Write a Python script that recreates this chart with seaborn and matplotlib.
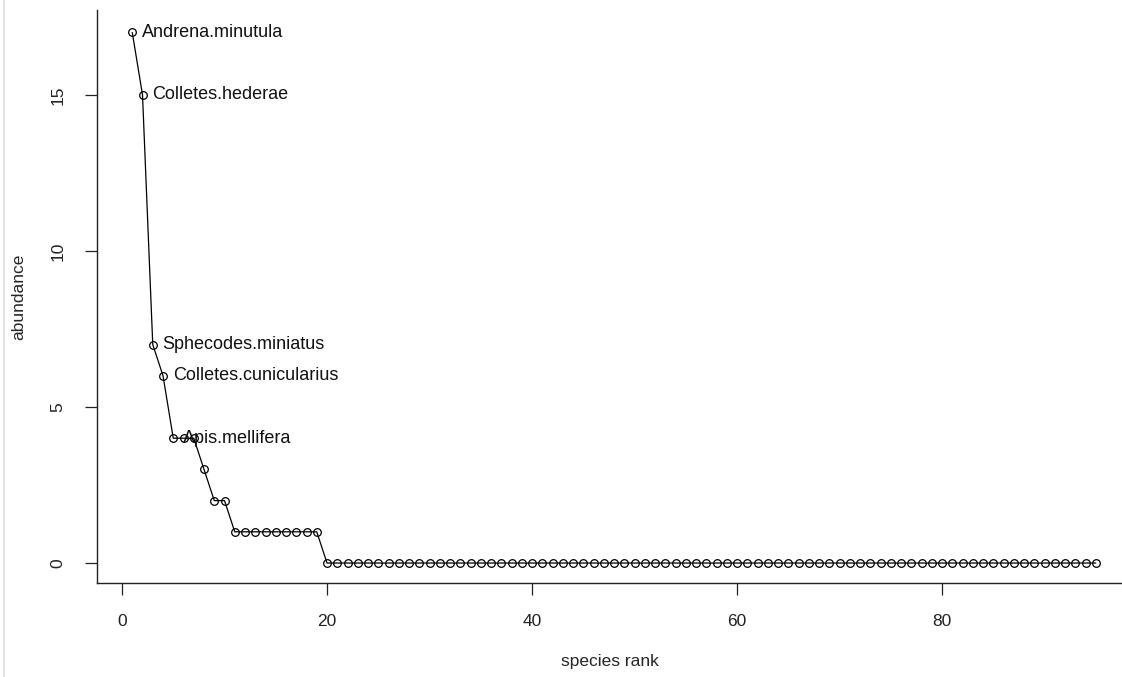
import numpy as np
import pandas as pd
import matplotlib
matplotlib.use("Agg")
import matplotlib.pyplot as plt
from matplotlib.lines import Line2D
import seaborn as sns

# rank-abundance values
abundance = [17, 15, 7, 6, 4, 4, 4, 3, 2, 2] + [1] * 9 + [0] * 76
ranks = list(range(1, len(abundance) + 1))

# labelled species (top five ranks)
label_ranks = [1, 2, 3, 4, 5]
label_names = ["Andrena.minutula", "Colletes.hederae", "Sphecodes.miniatus",
               "Colletes.cunicularius", "Apis.mellifera"]

x_ticks = [0, 20, 40, 60, 80]
y_ticks = [0, 5, 10, 15]

sns.set_style("white")
plt.rcParams['font.family'] = ['Liberation Sans', 'DejaVu Sans']

df = pd.DataFrame({'rank': ranks, 'abundance': abundance})

fig = plt.figure(figsize=(11.22, 6.77), dpi=100)
ax = fig.add_axes([97 / 1122, 94 / 677, 1025 / 1122, 573 / 677])

sns.lineplot(data=df, x='rank', y='abundance', ax=ax, color='black',
             linewidth=0.9, marker='o', markersize=5.5,
             markerfacecolor='none', markeredgecolor='black',
             markeredgewidth=0.9)

for r, name in zip(label_ranks, label_names):
    ax.annotate(name, (r, abundance[r - 1]), xytext=(7, 0),
                textcoords='offset points', ha='left', va='center',
                fontsize=13, color='#111111')

ax.set_xlim(-2.44, 97.56)
ax.set_ylim(-0.64, 17.72)
ax.set_xticks(x_ticks)
ax.set_yticks(y_ticks)
ax.set_yticklabels([str(v) for v in y_ticks], rotation=90, va='center')
ax.tick_params(axis='both', direction='out', length=8.5, width=0.9,
               labelsize=12.5, pad=14, colors='#222222',
               bottom=True, left=True)
ax.set_xlabel('species rank', fontsize=12.5, labelpad=18)
ax.set_ylabel('abundance', fontsize=12.5, labelpad=18)

for side in ['top', 'right']:
    ax.spines[side].set_visible(False)
for side in ['left', 'bottom']:
    ax.spines[side].set_color('#222222')
    ax.spines[side].set_linewidth(1.0)

# faint screenshot border on the left edge
fig.add_artist(Line2D([3.5 / 1122, 3.5 / 1122], [0, 1], transform=fig.transFigure,
                      color='#dcdde3', linewidth=1.2))

fig.savefig('out.png', dpi=100)
